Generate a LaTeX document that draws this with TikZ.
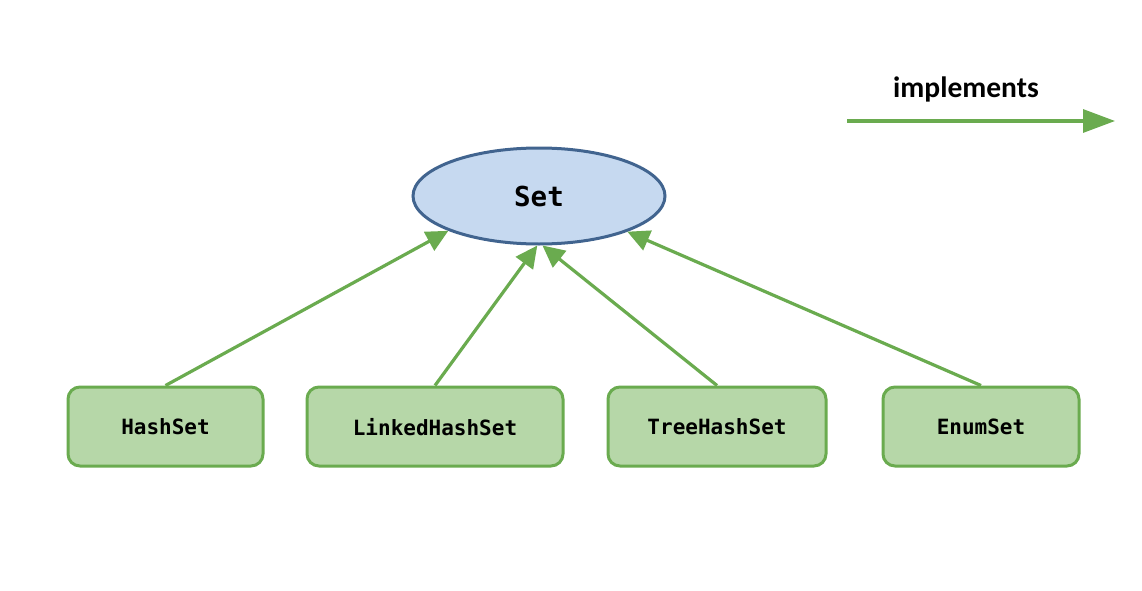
\documentclass[tikz,border=0pt]{standalone}
\usepackage{fontspec}
\setmonofont{DejaVu Sans Mono}
\newfontfamily\legendfont{Carlito}
\usetikzlibrary{arrows.meta,shapes.geometric}
\definecolor{arrowgreen}{HTML}{6AAB4F}
\definecolor{boxfill}{HTML}{B6D7A8}
\definecolor{setfill}{HTML}{C6D9F0}
\definecolor{setdraw}{HTML}{41648F}
\tikzset{
  classbox/.style={draw=arrowgreen, fill=boxfill, line width=3pt, rounded corners=12pt,
    minimum height=79pt, font=\ttfamily\bfseries\fontsize{21}{24}\selectfont, inner sep=0pt,
    text depth=0pt},
  impl/.style={draw=arrowgreen, line width=3.2pt, -{Triangle[length=22pt,width=21pt]}},
}
\begin{document}
\begin{tikzpicture}[x=1pt,y=-1pt]
\useasboundingbox (0,0) rectangle (1142,591);
\node[ellipse, draw=setdraw, fill=setfill, line width=3pt, minimum width=252pt, minimum height=96pt,
  font=\ttfamily\bfseries\fontsize{27.5}{30}\selectfont] (set) at (539,196) {Set};
\node[classbox, minimum width=195pt] (hs) at (165.5,426.5) {HashSet};
\node[classbox, minimum width=256pt] (lhs) at (435,426.5) {LinkedHashSet};
\node[classbox, minimum width=218pt] (ths) at (717,426.5) {TreeHashSet};
\node[classbox, minimum width=196pt] (es) at (981,426.5) {EnumSet};
\draw[impl] (hs.north) -- (set.201);
\draw[impl] (lhs.north) -- (set.268);
\draw[impl] (ths.north) -- (set.274);
\draw[impl] (es.north) -- (set.338);
\node[font=\legendfont\bfseries\fontsize{29.5}{32}\selectfont] (lbl) at (966,89) {implements};
\coordinate (la) at (847,121);
\coordinate (lb) at (1115,121);
\draw[impl, -{Triangle[length=32pt,width=23pt]}] (la) -- (lb);
\end{tikzpicture}
\end{document}
